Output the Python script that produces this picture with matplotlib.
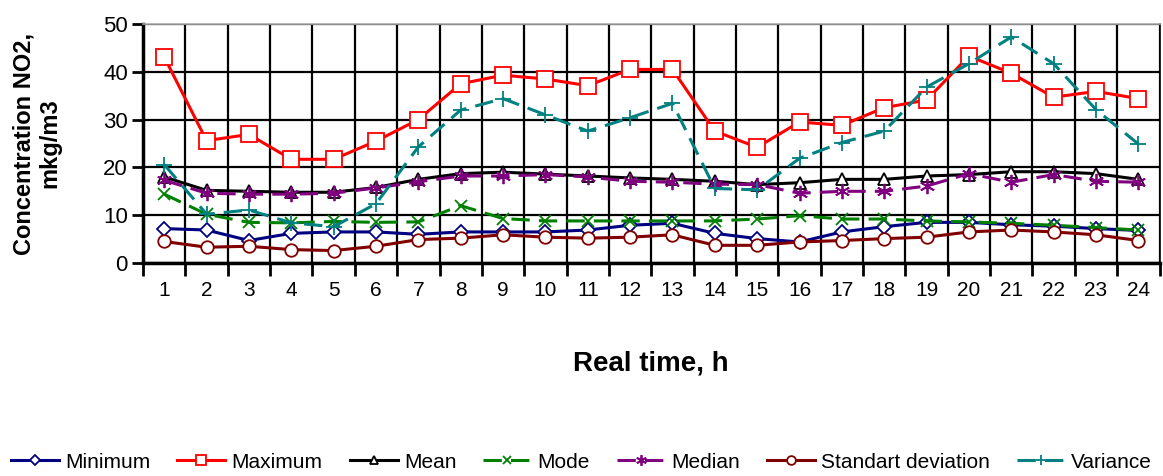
import numpy as np
import matplotlib
matplotlib.use("Agg")
import matplotlib.pyplot as plt

plt.rcParams['font.family'] = ['Liberation Sans', 'DejaVu Sans']

hours = list(range(1, 25))

minimum = [7.2, 6.9, 4.7, 6.2, 6.5, 6.5, 6.0, 6.5, 6.5, 6.5, 6.9, 7.9,
           8.3, 6.2, 5.1, 4.4, 6.5, 7.6, 8.5, 8.5, 8.0, 7.7, 7.2, 6.8]
maximum = [43.1, 25.6, 26.9, 21.7, 21.7, 25.5, 30.0, 37.5, 39.3, 38.5, 37.1, 40.5,
           40.5, 27.6, 24.2, 29.5, 28.8, 32.5, 34.1, 43.3, 39.7, 34.7, 35.9, 34.4]
mean = [18.0, 15.2, 15.0, 14.8, 14.8, 15.8, 17.5, 18.7, 19.0, 18.6, 18.2, 17.8,
        17.5, 17.1, 16.4, 16.8, 17.5, 17.5, 18.2, 18.5, 19.1, 19.1, 18.7, 17.5]
mode = [14.4, 10.2, 8.5, 8.4, 8.7, 8.5, 8.6, 12.0, 9.3, 8.8, 8.8, 8.8,
        8.8, 8.8, 9.2, 9.9, 9.2, 9.2, 8.8, 8.6, 8.3, 7.9, 7.4, 6.9]
median = [17.3, 14.6, 14.4, 14.4, 14.6, 15.7, 17.0, 18.2, 18.2, 18.5, 18.0, 17.1,
          16.9, 16.5, 16.4, 14.6, 15.0, 15.0, 16.1, 18.7, 16.9, 18.5, 17.1, 16.9]
std_dev = [4.5, 3.3, 3.5, 2.8, 2.6, 3.5, 4.9, 5.2, 5.9, 5.4, 5.2, 5.4,
           5.9, 3.7, 3.7, 4.4, 4.7, 5.1, 5.4, 6.5, 6.9, 6.5, 5.9, 4.7]
variance = [20.6, 10.2, 11.1, 8.4, 7.6, 12.4, 24.3, 32.0, 34.4, 31.0, 27.6, 30.4,
            33.4, 15.6, 15.3, 21.9, 25.2, 27.6, 36.8, 41.7, 47.3, 41.7, 32.1, 24.9]

fig = plt.figure(figsize=(11.63, 4.76), dpi=100)
ax = fig.add_axes([0.123, 0.4475, 0.874, 0.502])

# name, values, colour, marker, line style, marker size
series = [
    ("Minimum", minimum, "#000080", "D", "-", 7),
    ("Maximum", maximum, "#FF0000", "s", "-", 11),
    ("Mean", mean, "#000000", "^", "-", 8),
    ("Mode", mode, "#008000", "x", (0, (6, 3)), 9),
    ("Median", median, "#800080", (6, 2, 0), (0, (6, 3)), 11),
    ("Standart deviation", std_dev, "#800000", "o", "-", 9),
    ("Variance", variance, "#008080", "+", (0, (6, 3)), 11),
]

for name, vals, col, mk, ls, ms in series:
    filled = mk in ("x", "+") or isinstance(mk, tuple)
    ax.plot(hours, vals, color=col, linestyle=ls, linewidth=2.2,
            marker=mk, markersize=ms, markeredgecolor=col,
            markerfacecolor=col if filled else "white",
            markeredgewidth=1.3, label=name, zorder=3)

ax.set_xlim(0.5, 24.5)
ax.set_ylim(0, 50)
ax.set_yticks(np.arange(0, 51, 10))
# gridlines/ticks between hours, labels on the hours
ax.set_xticks(np.arange(0.5, 25, 1))
ax.set_xticklabels([])
ax.set_xticks(hours, minor=True)
ax.set_xticklabels([str(h) for h in hours], minor=True)
ax.tick_params(axis='x', which='major', length=9, width=2, direction='out')
ax.tick_params(axis='x', which='minor', length=0, pad=13, labelsize=15)
ax.tick_params(axis='y', length=8, width=2, direction='out', labelsize=16, pad=3)

ax.grid(True, which='major', color='black', linewidth=1.6, zorder=1)
ax.set_axisbelow(True)

for side in ('left', 'bottom'):
    ax.spines[side].set_linewidth(2.5)
ax.spines['top'].set_color('#aaaaaa')
ax.spines['top'].set_linewidth(1.2)
ax.spines['right'].set_linewidth(1.2)

ax.set_xlabel("Real time, h", fontsize=20, fontweight='bold', labelpad=36)
ax.set_ylabel("Concentration NO2,\nmkg/m3", fontsize=17, fontweight='bold',
              labelpad=30, linespacing=1.15)

fig.legend(loc='lower center', bbox_to_anchor=(0.5, -0.03), ncol=7, frameon=False,
           fontsize=15, handlelength=2.3, columnspacing=1.3, handletextpad=0.3,
           markerscale=0.7)

fig.savefig("out.png", dpi=100)
